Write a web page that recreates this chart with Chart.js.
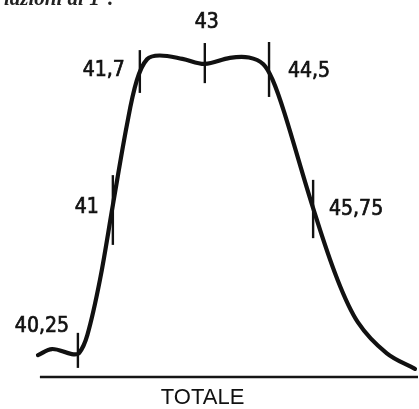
<!DOCTYPE html>
<html>
<head>
<meta charset="utf-8">
<script src="https://cdn.jsdelivr.net/npm/chart.js@4/dist/chart.umd.min.js"></script>
<style>
  html, body { margin: 0; padding: 0; background: #fff; }
  #wrap { width: 419px; height: 409px; position: relative; }
</style>
</head>
<body>
<div id="wrap"><canvas id="c"></canvas></div>
<script>
// ---- data (x = position along the baseline 0-100, y = height 0-100) ----
const curveX = [0, 3.7, 8.9, 10.8, 13.0, 16.3, 19.7, 23.4, 26.0, 28.7, 32.0, 38.0, 43.9, 50.5, 55.5, 59.3, 61.8, 64.8, 72.4, 78.6, 84.2, 91.8, 99.2];
const curveY = [6.5, 8.3, 6.8, 7.1, 12.5, 28.8, 51.0, 74.8, 88.0, 94.3, 95.4, 94.4, 92.9, 94.7, 94.8, 92.8, 88.0, 78.5, 50.1, 29.5, 16.2, 7.0, 2.4];

const markLabels = ["40,25", "41", "41,7", "43", "44,5", "45,75"];
const markX      = [10.5, 19.7, 26.8, 43.9, 60.8, 72.4];
const markLow    = [2.7, 39.2, 84.3, 87.2, 83.1, 41.2];
const markHigh   = [13.1, 59.9, 97.0, 99.1, 99.4, 58.5];

const axisTitle = "TOTALE";
const captionText = "lazioni al 1°.";
const baseX = [0.5, 100];
const baseY = [0, 0];

// ---- datasets ----
const datasets = [];
datasets.push({
  label: 'curve',
  data: curveX.map((x, i) => ({ x: x, y: curveY[i] })),
  showLine: true, borderColor: '#111', borderWidth: 4.2,
  pointRadius: 0, tension: 0.35, fill: false,
  borderCapStyle: 'round', borderJoinStyle: 'round'
});
markLabels.forEach((lab, i) => {
  datasets.push({
    label: 'mark ' + lab,
    data: [{ x: markX[i], y: markLow[i] }, { x: markX[i], y: markHigh[i] }],
    showLine: true, borderColor: '#111', borderWidth: 2.4, pointRadius: 0, tension: 0
  });
});
datasets.push({
  label: 'baseline',
  data: baseX.map((x, i) => ({ x: x, y: baseY[i] })),
  showLine: true, borderColor: '#151515', borderWidth: 2.6, pointRadius: 0, tension: 0
});

// label offsets (pixels) relative to the middle of each mark
const labelOffsets = {
  "40,25": [-36, -24], "41": [-26, -2], "41,7": [-36, -1],
  "43": [2, -41], "44,5": [40, 2], "45,75": [43, 1]
};

const textPlugin = {
  id: 'texts',
  afterDatasetsDraw(chart) {
    const ctx = chart.ctx;
    const xs = chart.scales.x, ys = chart.scales.y;
    ctx.save();
    ctx.fillStyle = '#111';
    ctx.strokeStyle = '#111';
    ctx.lineWidth = 0.7;
    ctx.textAlign = 'center';
    ctx.textBaseline = 'middle';
    ctx.font = '21px "DejaVu Sans Condensed", "DejaVu Sans", sans-serif';
    markLabels.forEach((lab, i) => {
      const px = xs.getPixelForValue(markX[i]);
      const py = (ys.getPixelForValue(markLow[i]) + ys.getPixelForValue(markHigh[i])) / 2;
      const off = labelOffsets[lab];
      ctx.fillText(lab, px + off[0], py + off[1]);
      ctx.strokeText(lab, px + off[0], py + off[1]);
    });
    ctx.font = '22px "Liberation Sans", Arial, sans-serif';
    ctx.fillText(axisTitle, xs.getPixelForValue(43.3), ys.getPixelForValue(0) + 21);
    ctx.textAlign = 'left';
    ctx.textBaseline = 'alphabetic';
    ctx.font = 'italic bold 21px "Liberation Serif", "DejaVu Serif", serif';
    ctx.fillStyle = '#222';
    ctx.fillText(captionText, 4, 5);
    ctx.restore();
  }
};

new Chart(document.getElementById('c'), {
  type: 'scatter',
  data: { datasets: datasets },
  options: {
    responsive: true, maintainAspectRatio: false, animation: false,
    layout: { padding: { left: 38, right: 1, top: 40, bottom: 32 } },
    plugins: { legend: { display: false }, tooltip: { enabled: false } },
    scales: {
      x: { type: 'linear', min: 0, max: 100, display: false },
      y: { type: 'linear', min: 0, max: 100, display: false }
    },
    clip: false
  },
  plugins: [textPlugin]
});
</script>
</body>
</html>
